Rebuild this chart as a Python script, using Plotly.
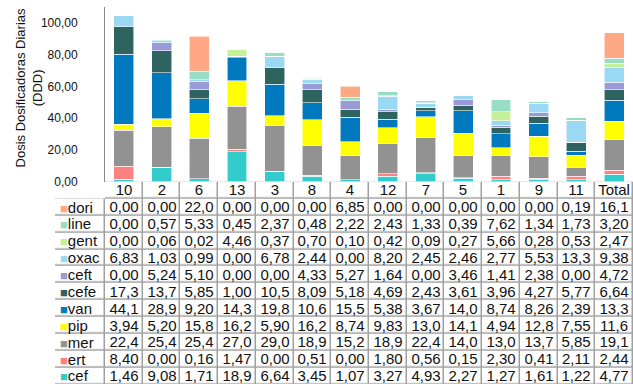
import plotly.graph_objects as go

categories = ["10", "2", "6", "13", "3", "8", "4", "12", "7", "5", "1", "9", "11", "Total"]

# series in table order (top to bottom)
series_names = ["dori", "line", "gent", "oxac", "ceft", "cefe", "van", "pip", "mer", "ert", "cef"]

dori = [0.00, 0.00, 22.0, 0.00, 0.00, 0.00, 6.85, 0.00, 0.00, 0.00, 0.00, 0.00, 0.19, 16.1]
line = [0.00, 0.57, 5.33, 0.45, 2.37, 0.48, 2.22, 2.43, 1.33, 0.39, 7.62, 1.34, 1.73, 3.20]
gent = [0.00, 0.06, 0.02, 4.46, 0.37, 0.70, 0.10, 0.42, 0.09, 0.27, 5.66, 0.28, 0.53, 2.47]
oxac = [6.83, 1.03, 0.99, 0.00, 6.78, 2.44, 0.00, 8.20, 2.45, 2.46, 2.77, 5.53, 13.3, 9.38]
ceft = [0.00, 5.24, 5.10, 0.00, 0.00, 4.33, 5.27, 1.64, 0.00, 3.46, 1.41, 2.38, 0.00, 4.72]
cefe = [17.3, 13.7, 5.85, 1.00, 10.5, 8.09, 5.18, 4.69, 2.43, 3.61, 3.96, 4.27, 5.77, 6.64]
van = [44.1, 28.9, 9.20, 14.3, 19.8, 10.6, 15.5, 5.38, 3.67, 14.0, 8.74, 8.26, 2.39, 13.3]
pip = [3.94, 5.20, 15.8, 16.2, 5.90, 16.2, 8.74, 9.83, 13.0, 14.1, 4.94, 12.8, 7.55, 11.6]
mer = [22.4, 25.4, 25.4, 27.0, 29.0, 18.9, 15.2, 18.9, 22.4, 14.0, 13.0, 13.7, 5.85, 19.1]
ert = [8.40, 0.00, 0.16, 1.47, 0.00, 0.51, 0.00, 1.80, 0.56, 0.15, 2.30, 0.41, 2.11, 2.44]
cef = [1.46, 9.08, 1.71, 18.9, 6.64, 3.45, 1.07, 3.27, 4.93, 2.27, 1.27, 1.61, 1.22, 4.77]

series_values = [dori, line, gent, oxac, ceft, cefe, van, pip, mer, ert, cef]
colors = ["#FFA885", "#99DDC4", "#C4F09A", "#9AD8F4", "#9A9AD8", "#2F6360",
          "#0079BF", "#FFFF00", "#929292", "#FF8080", "#33CCCC"]

y_ticks = [0, 20, 40, 60, 80, 100]
y_title = "Dosis Dosificadoras Diarias<br>(DDD)"

# ---- layout constants (pixels) ----
W, H = 633, 391
axis_left = 105
table_left = 55
axis_bottom = 185
axis_top = 7
row_h = 17.2
GRID = "#a0a0a0"
FONT = "Liberation Sans, Arial, sans-serif"
TXT = "#111111"

fig = go.Figure()

# stacked bars: bottom (cef) to top (dori)
for name, vals, col in reversed(list(zip(series_names, series_values, colors))):
    fig.add_trace(go.Bar(
        x=categories, y=vals, name=name,
        marker=dict(color=col, line=dict(color="rgba(255,255,255,0.7)", width=0.8)),
        showlegend=False, xaxis="x", yaxis="y", hoverinfo="x+y+name",
    ))

def fmt(v):
    s = f"{v:.1f}" if v >= 10 else f"{v:.2f}"
    return s.replace(".", ",")

# data table as a heatmap of white cells (header row + one row per series)
row_keys = ["hdr"] + series_names
cell_text = [categories] + [[fmt(v) for v in s] for s in series_values]
fig.add_trace(go.Heatmap(
    x=categories, y=row_keys,
    z=[[0] * len(categories) for _ in row_keys],
    text=cell_text, texttemplate="%{text}",
    textfont=dict(family=FONT, size=15, color=TXT),
    colorscale=[[0, "white"], [1, "white"]], showscale=False,
    xgap=1.5, ygap=1.5, xaxis="x", yaxis="y2", hoverinfo="skip",
))

# legend column (swatch + name) as a one-column heatmap on its own x axis
fig.add_trace(go.Heatmap(
    x=["legend"], y=series_names,
    z=[[0] for _ in series_names],
    colorscale=[[0, "white"], [1, "white"]], showscale=False,
    xgap=1.5, ygap=1.5, xaxis="x3", yaxis="y2", hoverinfo="skip",
))

annotations = []
for name, col in zip(series_names, colors):
    annotations.append(dict(
        xref="paper", yref="y2", x=(table_left + 3) / W, y=name,
        xanchor="left", yanchor="middle", showarrow=False,
        text=f"<span style='color:{col};font-size:13px'>■</span>{name}",
        font=dict(family=FONT, size=15, color=TXT),
    ))
# y axis title
annotations.append(dict(
    xref="paper", yref="paper", x=29 / W, y=1 - 90 / H,
    xanchor="center", yanchor="middle", showarrow=False, textangle=-90,
    text=y_title, font=dict(family=FONT, size=13, color=TXT),
))

n_rows_visible = (H - axis_bottom) / row_h
shapes = [
    dict(type="rect", xref="x domain", yref="y2 domain", x0=0, x1=1, y0=0, y1=1,
         fillcolor=GRID, line=dict(width=0), layer="below"),
    dict(type="rect", xref="x3 domain", yref="y2", x0=0, x1=1,
         y0=0.5, y1=-0.5 + n_rows_visible,
         fillcolor=GRID, line=dict(width=0), layer="below"),
]

fig.update_layout(
    width=W, height=H,
    margin=dict(l=0, r=0, t=0, b=0),
    paper_bgcolor="white", plot_bgcolor="white",
    barmode="stack", bargap=0.47,
    separators=",.",
    font=dict(family=FONT, color=TXT),
    hovermode="closest",
    xaxis=dict(domain=[axis_left / W, 1], showticklabels=False, showline=False,
               showgrid=False, zeroline=False, ticks="", fixedrange=True),
    xaxis3=dict(domain=[table_left / W, axis_left / W], anchor="y2",
                showticklabels=False, showgrid=False, zeroline=False,
                showline=False, ticks="", fixedrange=True),
    yaxis=dict(domain=[1 - axis_bottom / H, 1 - axis_top / H], range=[0, 110],
               tickvals=y_ticks, tickformat=".2f", showgrid=False, zeroline=False,
               showline=True, linecolor="#8a8a8a", linewidth=1, ticks="",
               ticklabelstandoff=24, fixedrange=True,
               tickfont=dict(family=FONT, size=12, color=TXT)),
    yaxis2=dict(domain=[0, 1 - axis_bottom / H], anchor="x",
                range=[-0.5 + n_rows_visible, -0.5], showticklabels=False,
                showgrid=False, zeroline=False, showline=False, ticks="",
                fixedrange=True),
    annotations=annotations,
    shapes=shapes,
)

fig.write_html(
    "out.html",
    config={"displayModeBar": False},
    post_script="document.body.style.margin='0px';document.body.style.overflow='hidden';",
)
